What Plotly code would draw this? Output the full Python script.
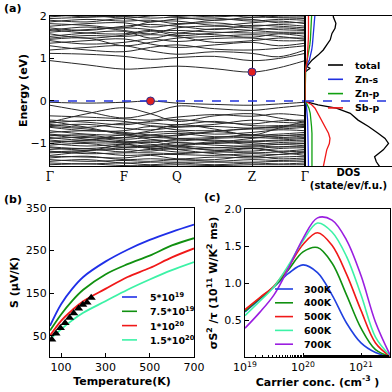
import plotly.graph_objects as go

# ---------------- (a) band structure ----------------
k_path = [0, 0.37, 0.74, 1.005, 1.27, 1.645, 2.02, 2.285, 2.55]
k_ticks = [0, 0.74, 1.27, 2.02, 2.55]
k_labels = ["Γ", "F", "Q", "Z", "Γ"]

cond_bands = [
    [0.95, 0.85, 0.75, 0.78, 0.82, 0.76, 0.68, 0.78, 0.95],
    [1.12, 1.10, 1.05, 0.98, 1.02, 1.05, 0.95, 1.00, 1.12],
    [1.20, 1.26, 1.30, 1.18, 1.10, 1.16, 1.12, 1.04, 1.20],
    [1.30, 1.20, 1.16, 1.26, 1.32, 1.22, 1.20, 1.24, 1.30],
    [1.36, 1.42, 1.46, 1.34, 1.26, 1.32, 1.38, 1.30, 1.36],
    [1.42, 1.34, 1.38, 1.46, 1.40, 1.47, 1.48, 1.42, 1.42],
    [1.45, 1.48, 1.30, 1.38, 1.48, 1.52, 1.56, 1.52, 1.45],
    [1.48, 1.54, 1.52, 1.56, 1.52, 1.38, 1.42, 1.48, 1.48],
    [1.52, 1.60, 1.64, 1.48, 1.58, 1.56, 1.50, 1.58, 1.52],
    [1.58, 1.48, 1.55, 1.64, 1.66, 1.62, 1.60, 1.60, 1.58],
    [1.62, 1.68, 1.72, 1.68, 1.60, 1.70, 1.66, 1.62, 1.62],
    [1.66, 1.74, 1.66, 1.58, 1.72, 1.76, 1.72, 1.68, 1.66],
    [1.68, 1.60, 1.58, 1.66, 1.54, 1.60, 1.66, 1.72, 1.68],
    [1.72, 1.66, 1.76, 1.80, 1.76, 1.68, 1.78, 1.76, 1.72],
    [1.76, 1.82, 1.84, 1.74, 1.80, 1.84, 1.76, 1.80, 1.76],
    [1.82, 1.78, 1.72, 1.86, 1.88, 1.78, 1.84, 1.88, 1.82],
    [1.86, 1.92, 1.88, 1.90, 1.82, 1.90, 1.92, 1.84, 1.86],
    [1.90, 1.86, 1.94, 1.86, 1.93, 1.95, 1.88, 1.92, 1.90],
    [1.94, 1.97, 1.99, 1.95, 1.97, 1.90, 1.97, 1.96, 1.94],
    [1.98, 2.02, 1.95, 2.00, 2.02, 1.98, 2.02, 1.98, 1.98],
    [2.05, 1.98, 2.04, 2.05, 1.99, 2.05, 1.97, 2.03, 2.05],
]

val_bands = [
    [-0.03, -0.05, -0.03, 0.00, -0.05, -0.08, -0.10, -0.07, -0.03],
    [-0.10, -0.25, -0.40, -0.30, -0.12, -0.18, -0.22, -0.16, -0.10],
    [-0.50, -0.30, -0.16, -0.30, -0.48, -0.35, -0.30, -0.40, -0.50],
    [-0.35, -0.38, -0.42, -0.45, -0.38, -0.32, -0.36, -0.30, -0.35],
    [-0.45, -0.50, -0.56, -0.48, -0.44, -0.50, -0.54, -0.47, -0.45],
    [-0.52, -0.46, -0.48, -0.58, -0.60, -0.55, -0.45, -0.50, -0.52],
    [-0.55, -0.62, -0.52, -0.52, -0.56, -0.48, -0.58, -0.58, -0.55],
    [-0.58, -0.55, -0.64, -0.68, -0.62, -0.60, -0.64, -0.60, -0.58],
    [-0.60, -0.66, -0.76, -0.86, -0.80, -0.72, -0.64, -0.62, -0.60],
    [-0.62, -0.70, -0.70, -0.60, -0.68, -0.70, -0.66, -0.66, -0.62],
    [-0.48, -0.62, -0.78, -0.70, -0.56, -0.66, -0.80, -0.64, -0.48],
    [-0.70, -0.78, -0.80, -0.74, -0.72, -0.78, -0.74, -0.68, -0.70],
    [-0.74, -0.70, -0.74, -0.80, -0.82, -0.72, -0.80, -0.78, -0.74],
    [-0.78, -0.84, -0.86, -0.80, -0.76, -0.84, -0.82, -0.82, -0.78],
    [-0.80, -0.90, -1.00, -1.12, -1.06, -0.98, -0.88, -0.82, -0.80],
    [-0.82, -0.80, -0.90, -0.86, -0.88, -0.86, -0.80, -0.86, -0.82],
    [-0.86, -0.92, -0.80, -0.90, -0.94, -0.88, -0.86, -0.88, -0.86],
    [-0.88, -0.86, -0.94, -0.98, -0.90, -0.94, -0.94, -0.92, -0.88],
    [-0.92, -0.98, -0.98, -0.92, -0.98, -1.00, -0.96, -0.94, -0.92],
    [-0.96, -0.94, -0.96, -1.02, -1.04, -0.96, -1.02, -0.98, -0.96],
    [-1.00, -0.92, -0.86, -0.82, -0.88, -0.92, -0.98, -1.02, -1.00],
    [-1.00, -1.06, -1.02, -1.06, -0.98, -1.04, -1.06, -1.02, -1.00],
    [-1.04, -1.00, -1.10, -1.08, -1.06, -1.10, -1.06, -1.08, -1.04],
    [-1.08, -1.12, -1.06, -1.10, -1.14, -1.10, -1.12, -1.08, -1.08],
    [-1.10, -1.16, -1.14, -1.18, -1.10, -1.16, -1.18, -1.12, -1.10],
    [-1.14, -1.12, -1.20, -1.14, -1.20, -1.20, -1.12, -1.18, -1.14],
    [-1.18, -1.24, -1.22, -1.22, -1.24, -1.20, -1.22, -1.20, -1.18],
    [-1.20, -1.16, -1.10, -1.06, -1.14, -1.24, -1.30, -1.26, -1.20],
    [-1.22, -1.20, -1.28, -1.26, -1.26, -1.28, -1.24, -1.26, -1.22],
    [-1.28, -1.18, -1.02, -0.96, -1.06, -1.16, -1.10, -1.20, -1.28],
    [-1.30, -1.32, -1.34, -1.28, -1.36, -1.32, -1.34, -1.32, -1.30],
    [-1.34, -1.30, -1.38, -1.36, -1.38, -1.38, -1.30, -1.36, -1.34],
    [-1.38, -1.42, -1.40, -1.42, -1.38, -1.42, -1.38, -1.40, -1.38],
    [-1.42, -1.38, -1.46, -1.44, -1.44, -1.44, -1.44, -1.42, -1.42],
    [-1.46, -1.48, -1.46, -1.50, -1.46, -1.50, -1.46, -1.48, -1.46],
    [-1.50, -1.48, -1.52, -1.52, -1.50, -1.52, -1.50, -1.50, -1.50],
]

extrema_k = [1.005, 2.02]
extrema_e = [0.0, 0.68]
fermi_level = 0.0

# DOS (state/eV/f.u.)
dos_energy = [-1.55, -1.43, -1.31, -1.15, -1.0, -0.88, -0.76, -0.6, -0.45, -0.29,
              -0.17, -0.09, -0.02, 0.0, 0.65, 0.69, 0.73, 0.77, 0.81, 0.89,
              0.96, 1.08, 1.2, 1.32, 1.44, 1.59, 1.71, 1.83, 1.98, 2.05]
dos_total = [8.6, 8.2, 8.0, 9.0, 9.6, 9.2, 8.4, 7.3, 6.1, 5.2,
             3.6, 1.5, 0.2, 0.0, 0.0, 0.05, 0.3, 0.6, 0.2, 0.5,
             0.8, 1.5, 2.1, 2.5, 2.9, 3.1, 3.45, 3.55, 3.25, 3.3]
dos_zn_s = [0.4, 0.4, 0.4, 0.38, 0.38, 0.35, 0.35, 0.32, 0.3, 0.25,
            0.2, 0.15, 0.05, 0.0, 0.0, 0.05, 0.1, 0.15, 0.2, 0.3,
            0.5, 0.65, 0.77, 0.85, 0.9, 0.96, 1.0, 1.08, 1.15, 1.15]
dos_zn_p = [0.8, 0.8, 0.85, 0.85, 0.85, 0.85, 0.8, 0.75, 0.7, 0.6,
            0.45, 0.3, 0.1, 0.0, 0.0, 0.03, 0.06, 0.08, 0.12, 0.19,
            0.3, 0.38, 0.45, 0.55, 0.62, 0.65, 0.7, 0.75, 0.77, 0.77]
dos_sb_p = [2.1, 2.2, 2.3, 2.5, 2.8, 2.87, 2.7, 2.3, 1.9, 1.53,
            1.15, 0.77, 0.2, 0.0, 0.0, 0.02, 0.05, 0.08, 0.1, 0.19,
            0.25, 0.3, 0.35, 0.38, 0.38, 0.4, 0.42, 0.4, 0.4, 0.4]
dos_names = ["total", "Zn-s", "Zn-p", "Sb-p"]
dos_colors = ["black", "#2030e0", "#10a010", "#f01818"]

# ---------------- (b) Seebeck vs temperature ----------------
temperature = [50, 100, 150, 200, 300, 400, 500, 600, 700]
seebeck_names = ["5*10<sup>19</sup>", "7.5*10<sup>19</sup>", "1*10<sup>20</sup>", "1.5*10<sup>20</sup>"]
seebeck_values = [
    [73, 124, 160, 188, 224, 252, 275, 294, 311],
    [62, 100, 132, 158, 194, 218, 238, 262, 279],
    [50, 85, 110, 131, 160, 188, 209, 234, 255],
    [42, 65, 86, 104, 131, 158, 182, 204, 223],
]
seebeck_colors = ["#1f2fe8", "#109010", "#f01818", "#3cf2a6"]
exp_temperature = [58, 77, 97, 118, 138, 157, 179, 198, 217, 236]
exp_seebeck = [41, 55, 68, 80, 92, 103, 114, 123, 128, 139]

# ---------------- (c) power factor vs carrier concentration ----------------
carrier = [1e19, 1.778e19, 3.162e19, 5.623e19, 1e20, 1.778e20, 3.162e20,
           5.623e20, 1e21, 1.778e21, 3.162e21]
pf_names = ["300K", "400K", "500K", "600K", "700K"]
pf_values = [
    [0.61, 0.78, 0.95, 1.13, 1.245, 1.14, 0.84, 0.46, 0.19, 0.06, 0.0],
    [0.62, 0.79, 0.95, 1.18, 1.42, 1.48, 1.27, 0.84, 0.39, 0.10, 0.01],
    [0.64, 0.80, 0.96, 1.22, 1.52, 1.68, 1.51, 1.12, 0.63, 0.19, 0.01],
    [0.56, 0.75, 0.95, 1.24, 1.57, 1.81, 1.69, 1.36, 0.84, 0.27, 0.02],
    [0.39, 0.60, 0.84, 1.20, 1.60, 1.88, 1.85, 1.58, 1.10, 0.47, 0.03],
]
pf_colors = ["#2040e0", "#109010", "#f01818", "#3cf2a6", "#9a1ee0"]

W = H = 392
BOLD = dict(family="DejaVu Sans", size=11, color="black", weight="bold")
LEG = dict(family="DejaVu Sans", size=9.5, color="black", weight="bold")
TICK = dict(family="DejaVu Sans", size=11, color="black")

fig = go.Figure()

for band in cond_bands + val_bands:
    fig.add_trace(go.Scatter(x=k_path, y=band, mode="lines", line_shape="spline",
                             line=dict(color="#2a2a2a", width=1), showlegend=False,
                             hoverinfo="skip", xaxis="x", yaxis="y"))
fig.add_trace(go.Scatter(x=[k_path[0], k_path[-1]], y=[fermi_level, fermi_level], mode="lines",
                         line=dict(color="#2233dd", width=1.6, dash="dash"),
                         showlegend=False, xaxis="x", yaxis="y"))
fig.add_trace(go.Scatter(x=extrema_k, y=extrema_e, mode="markers",
                         marker=dict(color="#e02020", size=8, line=dict(color="#303090", width=1)),
                         showlegend=False, xaxis="x", yaxis="y"))

for name, vals, color in zip(dos_names, [dos_total, dos_zn_s, dos_zn_p, dos_sb_p], dos_colors):
    fig.add_trace(go.Scatter(x=vals, y=dos_energy, mode="lines", name=name,
                             line=dict(color=color, width=1.3), showlegend=False,
                             xaxis="x2", yaxis="y2"))
fig.add_trace(go.Scatter(x=[0, 10], y=[fermi_level, fermi_level], mode="lines",
                         line=dict(color="#2233dd", width=1.6, dash="dash"),
                         showlegend=False, xaxis="x2", yaxis="y2"))

for name, vals, color in zip(seebeck_names, seebeck_values, seebeck_colors):
    fig.add_trace(go.Scatter(x=temperature, y=vals, mode="lines", line_shape="spline", name=name,
                             line=dict(color=color, width=1.8), showlegend=False,
                             xaxis="x3", yaxis="y3"))
fig.add_trace(go.Scatter(x=exp_temperature, y=exp_seebeck, mode="markers",
                         marker=dict(symbol="triangle-up", color="black", size=8),
                         showlegend=False, xaxis="x3", yaxis="y3"))

for name, vals, color in zip(pf_names, pf_values, pf_colors):
    fig.add_trace(go.Scatter(x=carrier, y=vals, mode="lines", line_shape="spline", name=name,
                             line=dict(color=color, width=1.6), showlegend=False,
                             xaxis="x4", yaxis="y4"))


def px_x(v):
    return v / W


def px_y(v):
    return 1 - v / H


# compact legends (matplotlib-like row spacing), placed in pixel terms
shapes, annotations = [], []


def add_legend(names, colors, left, top, step, key_len, text_gap):
    for i, (name, color) in enumerate(zip(names, colors)):
        y = px_y(top + i * step)
        shapes.append(dict(type="line", xref="paper", yref="paper",
                           x0=px_x(left), x1=px_x(left + key_len), y0=y, y1=y,
                           line=dict(color=color, width=1.6)))
        annotations.append(dict(text=name, xref="paper", yref="paper", x=px_x(left + key_len + text_gap),
                                y=y, xanchor="left", yanchor="middle", showarrow=False, font=LEG))


add_legend(dos_names, dos_colors, 328, 65, 14.3, 15, 10)
add_legend(seebeck_names, seebeck_colors, 122, 297, 14.3, 15, 11)
add_legend(pf_names, pf_colors, 275, 289, 13.8, 18, 9)

for text, x, y in [("(a)", 2, 8), ("(b)", 2, 199), ("(c)", 202, 197)]:
    annotations.append(dict(text=text, x=px_x(x), y=px_y(y), xref="paper", yref="paper",
                            showarrow=False, xanchor="left", yanchor="middle", font=BOLD))
annotations.append(dict(text="Energy (eV)", x=px_x(23), y=px_y(91), xref="paper", yref="paper",
                        showarrow=False, textangle=-90, xanchor="center", yanchor="middle", font=BOLD))

frame = dict(showline=True, mirror=True, linecolor="black", linewidth=1, zeroline=False,
             showgrid=False, tickfont=TICK, ticks="inside", ticklen=4, tickcolor="black",
             automargin=False)

fig.update_layout(
    width=W, height=H, margin=dict(l=0, r=0, t=0, b=0),
    paper_bgcolor="white", plot_bgcolor="white", showlegend=False,
    xaxis=dict(frame, domain=[px_x(50), px_x(305)], range=[0, 2.55], anchor="y",
               tickvals=k_ticks, ticktext=k_labels, ticks="",
               tickfont=dict(family="DejaVu Serif", size=12, color="black"),
               showgrid=True, gridcolor="black", gridwidth=1),
    yaxis=dict(frame, domain=[px_y(166), px_y(16)], range=[-1.53, 2.0], anchor="x",
               tickvals=[-1, 0, 1, 2]),
    xaxis2=dict(frame, domain=[px_x(305), 1.0], range=[0, 10], anchor="y2",
                showticklabels=False, ticks="",
                title=dict(text="DOS<br>(state/ev/f.u.)", font=dict(BOLD, size=10), standoff=2)),
    yaxis2=dict(frame, domain=[px_y(166), px_y(16)], range=[-1.53, 2.0], anchor="x2",
                showticklabels=False, ticks=""),
    xaxis3=dict(frame, domain=[px_x(50), px_x(194)], range=[50, 700], anchor="y3",
                tickvals=[100, 300, 500, 700],
                title=dict(text="Temperature(K)", font=BOLD, standoff=4)),
    yaxis3=dict(frame, domain=[px_y(357), px_y(208)], range=[0, 350], anchor="x3",
                tickvals=[50, 150, 250, 350],
                title=dict(text="S (μV/K)", font=BOLD, standoff=4)),
    xaxis4=dict(frame, domain=[px_x(245), px_x(390)], type="log", range=[19, 21.5], anchor="y4",
                tickvals=[1e19, 1e20, 1e21],
                ticktext=["10<sup>19</sup>", "10<sup>20</sup>", "10<sup>21</sup>"],
                minor=dict(ticks="inside", ticklen=2, tickcolor="black"),
                title=dict(text="Carrier conc. (cm<sup>-3</sup> )", font=BOLD, standoff=4)),
    yaxis4=dict(frame, domain=[px_y(357), px_y(209)], range=[0, 2.0], anchor="x4",
                tickvals=[0.5, 1.0, 1.5, 2.0], tickformat=".1f",
                title=dict(text="σS<sup>2</sup> /τ (10<sup>11</sup> W/K<sup>2</sup> ms)",
                           font=BOLD, standoff=4)),
    shapes=shapes,
    annotations=annotations,
)

# the page body has a default 8px margin; drop it so the figure fills the window
fig.write_html("out.html", config={"displayModeBar": False},
               post_script="document.body.style.margin='0';")
